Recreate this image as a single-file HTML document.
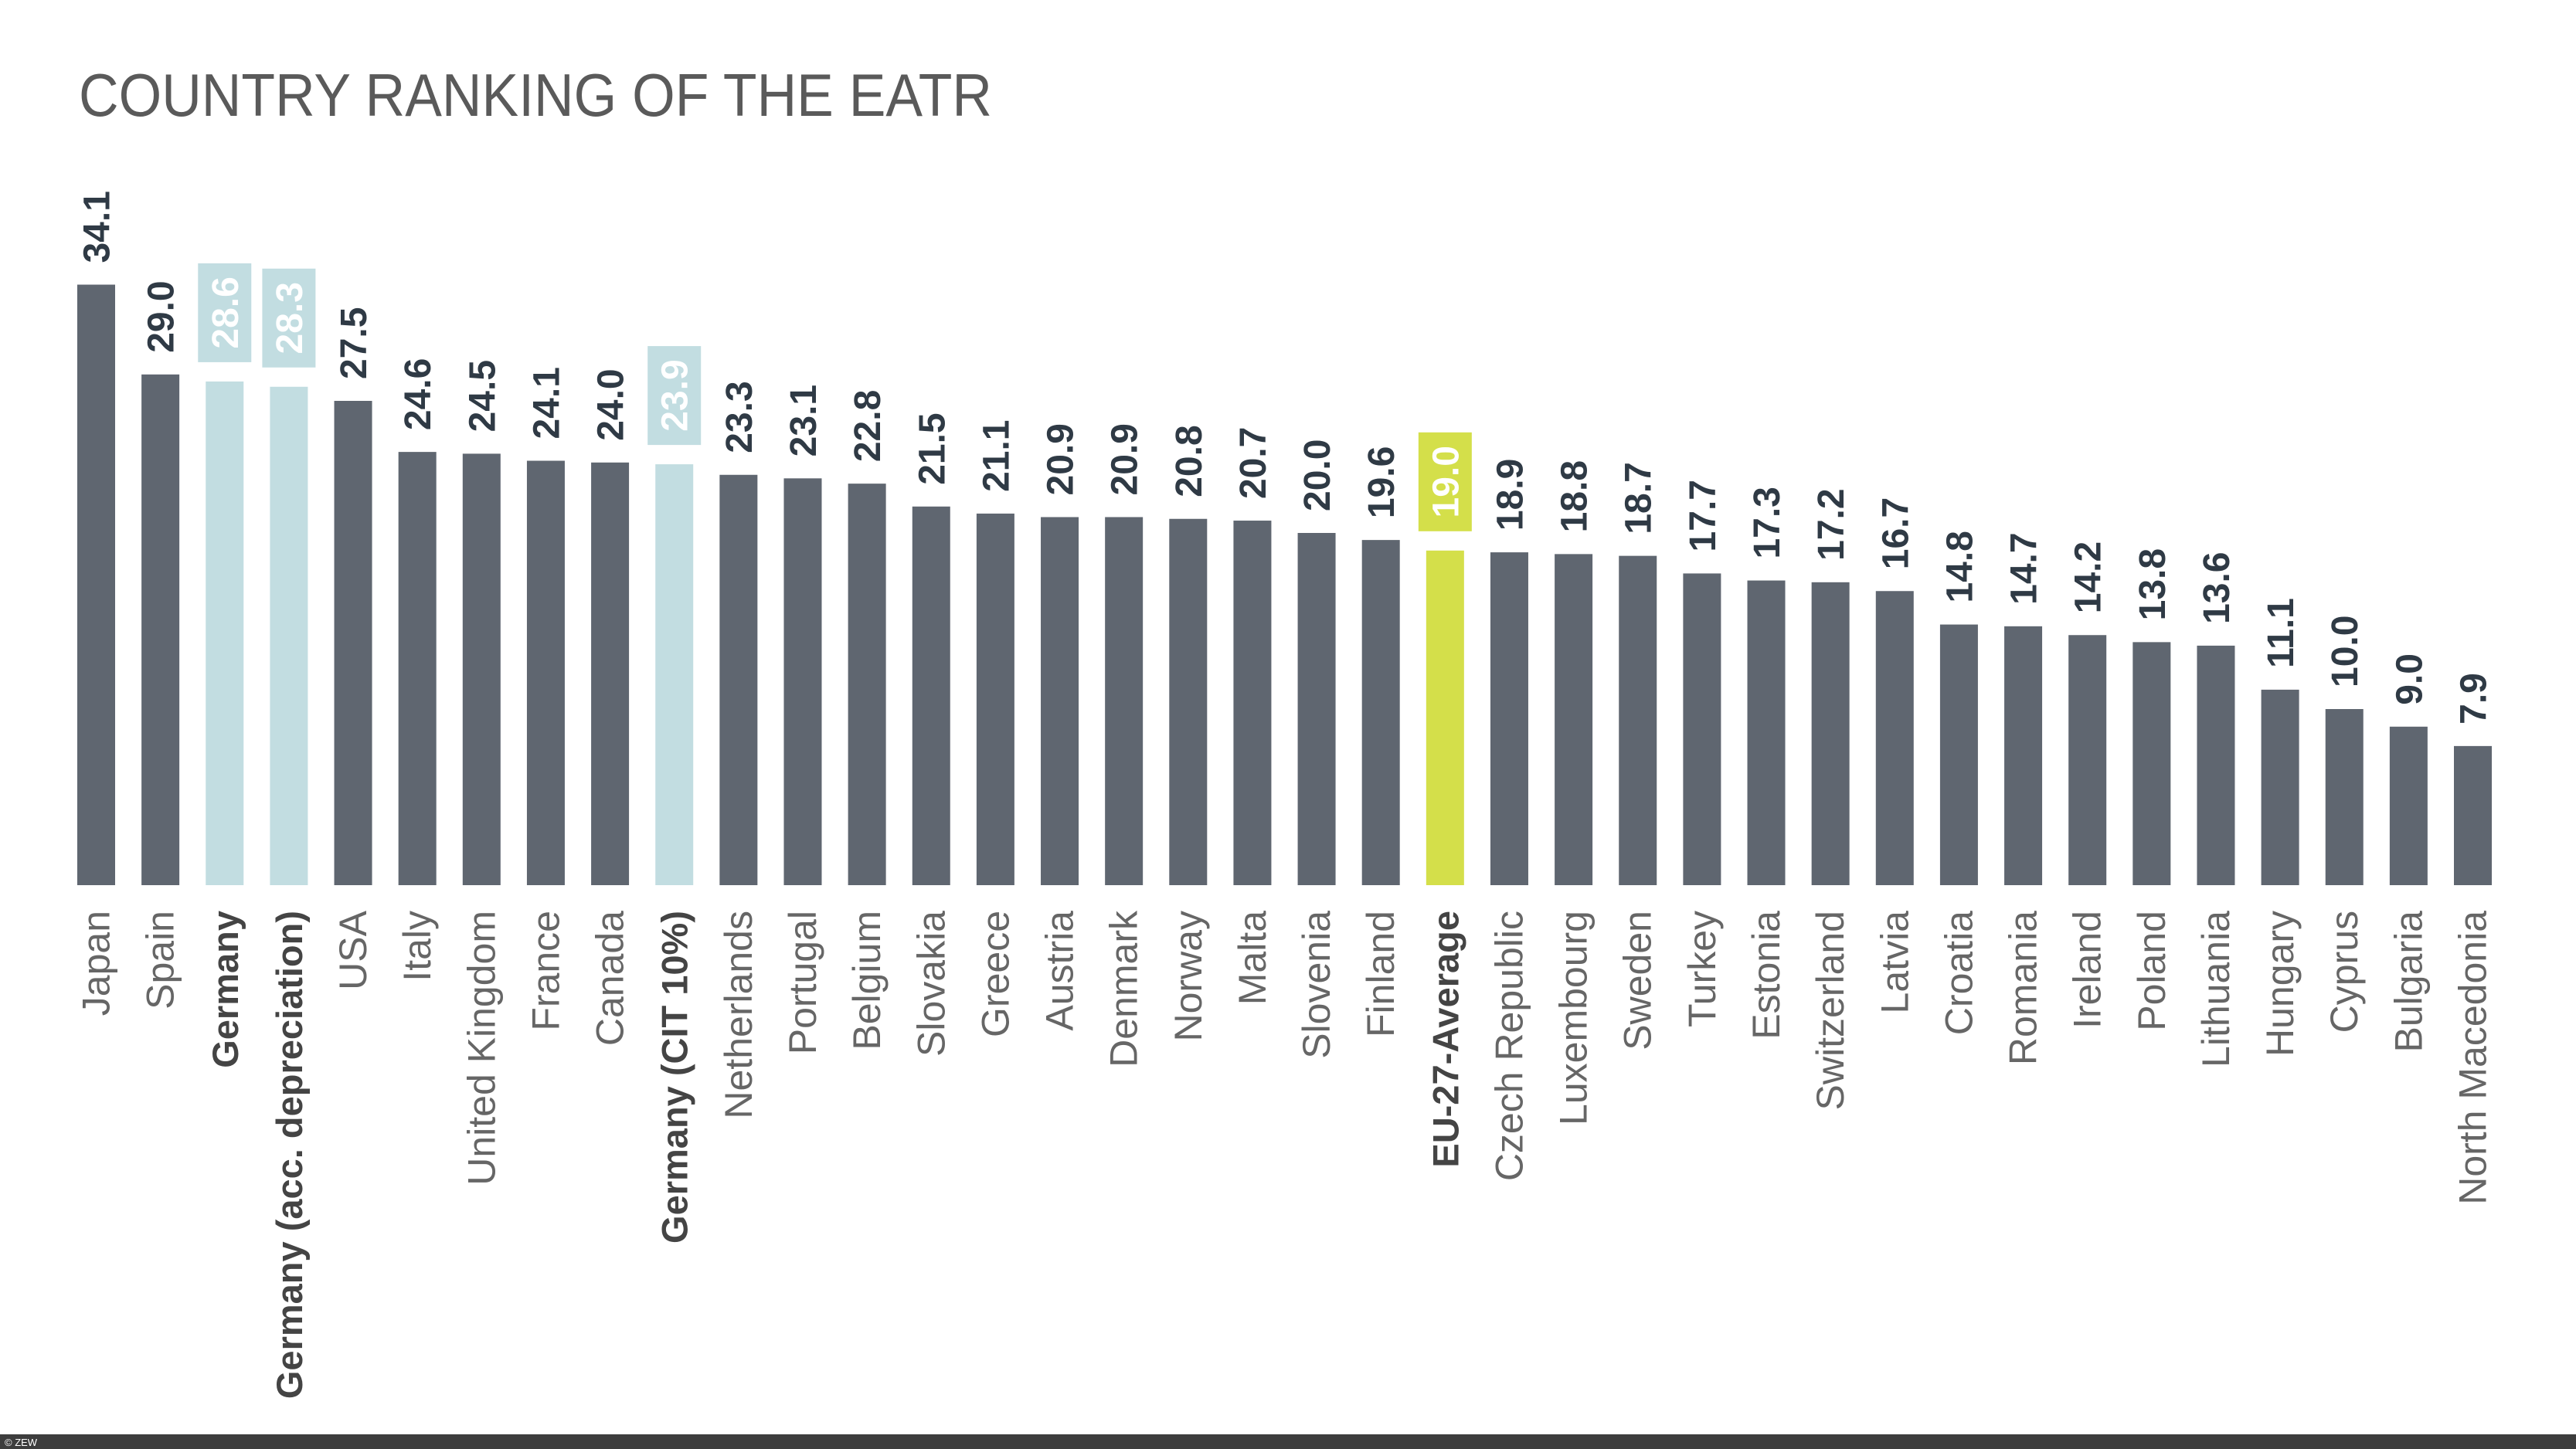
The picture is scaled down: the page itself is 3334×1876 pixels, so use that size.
<!DOCTYPE html>
<html><head><meta charset="utf-8"><style>
html,body{margin:0;padding:0;background:#fff;}
svg{display:block;}
</style></head><body>
<svg id="c" xmlns="http://www.w3.org/2000/svg" width="3334" height="1876" viewBox="0 0 3334 1876">
<rect width="3334" height="1876" fill="#fff"/>
<text x="102" y="150" font-family="Liberation Sans, sans-serif" font-size="78" fill="#5a5a5a" textLength="1182" lengthAdjust="spacingAndGlyphs">COUNTRY RANKING OF THE EATR</text>
<rect x="0" y="1857" width="3334" height="19" fill="#3d3d3d"/>
<text x="6" y="1872" font-family="Liberation Sans, sans-serif" font-size="13" fill="#fff">© ZEW</text>
<g id="g"></g>
</svg>
<script>
var d=[["Japan",34.1],["Spain",29.0],["Germany",28.6,1],["Germany (acc. depreciation)",28.3,1],["USA",27.5],["Italy",24.6],["United Kingdom",24.5],["France",24.1],["Canada",24.0],["Germany (CIT 10%)",23.9,1],["Netherlands",23.3],["Portugal",23.1],["Belgium",22.8],["Slovakia",21.5],["Greece",21.1],["Austria",20.9],["Denmark",20.9],["Norway",20.8],["Malta",20.7],["Slovenia",20.0],["Finland",19.6],["EU-27-Average",19.0,2],["Czech Republic",18.9],["Luxembourg",18.8],["Sweden",18.7],["Turkey",17.7],["Estonia",17.3],["Switzerland",17.2],["Latvia",16.7],["Croatia",14.8],["Romania",14.7],["Ireland",14.2],["Poland",13.8],["Lithuania",13.6],["Hungary",11.1],["Cyprus",10.0],["Bulgaria",9.0],["North Macedonia",7.9]];
var s="",base=1146,k=22.8;
var pitch=(3200.5-124.5)/(d.length-1);
var F='font-family="Liberation Sans, sans-serif"';
d.forEach(function(e,i){
 var cx=124.5+i*pitch,h=e[1]*k,top=base-h;
 var col=e[2]==1?"#c2dde1":e[2]==2?"#d4df4a":"#5f6670";
 s+='<rect x="'+(cx-24.5)+'" y="'+top+'" width="49" height="'+h+'" fill="'+col+'"/>';
 var v=e[1].toFixed(1);
 if(e[2]){
  var bb=top-25;
  s+='<rect x="'+(cx-34.5)+'" y="'+(bb-128)+'" width="69" height="128" fill="'+col+'"/>';
  s+='<text transform="translate('+(cx+17)+','+(bb-64)+') rotate(-90)" text-anchor="middle" '+F+' font-weight="bold" font-size="48" fill="#fff">'+v+'</text>';
 } else {
  s+='<text transform="translate('+(cx+17)+','+(top-28)+') rotate(-90)" '+F+' font-weight="bold" font-size="48" fill="#2f3a45">'+v+'</text>';
 }
 var b=e[2]&&e[2]>0;
 s+='<text transform="translate('+(cx+17)+',1179) rotate(-90)" text-anchor="end" '+F+(b?' font-weight="bold" fill="#444" font-size="47"':' fill="#666" font-size="50"')+'>'+e[0]+'</text>';
});
document.getElementById("g").innerHTML=s;
</script>
</body></html>
